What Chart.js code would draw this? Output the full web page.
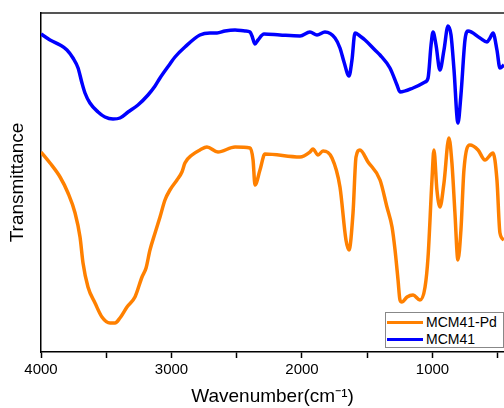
<!DOCTYPE html>
<html>
<head>
<meta charset="utf-8">
<script src="https://cdn.jsdelivr.net/npm/chart.js@4"></script>
<style>
  html, body { margin: 0; padding: 0; background: #fff; }
  #wrap { position: relative; width: 504px; height: 408px; overflow: hidden; }
  #legend {
    position: absolute; left: 385px; top: 312px; width: 117px; height: 34px;
    border: 1px solid #888; background: #fff; white-space: nowrap; overflow: hidden;
    font: 14px "Liberation Sans", Arial, sans-serif; color: #000;
  }
  #legend .item { display: flex; align-items: center; height: 16px; margin-top: 1px; }
  #legend .sw { width: 36px; height: 3px; margin: 0 3px 0 1px; flex: none; }
</style>
</head>
<body>
<div id="wrap">
  <canvas id="ftir" width="504" height="408"></canvas>
  <div id="legend"></div>
</div>
<script>
// MCM41 (blue)
const wnMCM41 = [4000, 3931, 3854, 3801, 3755, 3716, 3686, 3663, 3625, 3563, 3510, 3448, 3395, 3333, 3257, 3180, 3126, 3088, 3012, 2973, 2897, 2782, 2705, 2651, 2590, 2513, 2437, 2398, 2383, 2360, 2337, 2291, 2169, 2015, 1939, 1885, 1824, 1747, 1709, 1678, 1640, 1617, 1594, 1556, 1517, 1441, 1402, 1326, 1272, 1249, 1149, 1057, 1034, 1011, 996, 973, 943, 912, 881, 858, 835, 805, 782, 751, 728, 636, 582, 559, 536, 506, 483, 452];
const tMCM41 = [318, 312, 307, 302, 294, 284, 269, 259, 249, 240, 235, 233, 234, 240, 247, 257, 266, 274, 288, 295, 305, 317, 319, 319, 321, 322, 321, 320, 316, 308, 312, 318, 317, 316, 320, 317, 320, 314, 304, 290, 276, 292, 319, 316, 312, 302, 297, 284, 267, 260, 264, 270, 274, 307, 320, 307, 282, 302, 326, 317, 282, 229, 257, 312, 321, 314, 310, 314, 319, 302, 284, 287];

// MCM41-Pd (orange)
const wnMCM41Pd = [4000, 3931, 3854, 3793, 3739, 3701, 3678, 3640, 3586, 3533, 3471, 3433, 3395, 3341, 3280, 3226, 3195, 3165, 3126, 3088, 3050, 3012, 2958, 2920, 2897, 2843, 2782, 2728, 2644, 2513, 2398, 2375, 2360, 2322, 2284, 2015, 1939, 1916, 1877, 1839, 1770, 1709, 1663, 1640, 1609, 1586, 1556, 1494, 1402, 1349, 1310, 1287, 1264, 1249, 1234, 1195, 1149, 1096, 1057, 1034, 1004, 989, 966, 943, 912, 874, 851, 828, 805, 782, 759, 713, 651, 598, 536, 506, 483, 452];
const tMCM41Pd = [200, 189, 175, 159, 139, 115, 89, 65, 49, 35, 29, 29, 34, 45, 55, 75, 84, 102, 119, 135, 152, 162, 172, 180, 189, 197, 202, 205, 200, 205, 204, 192, 167, 182, 198, 195, 200, 203, 197, 201, 194, 165, 112, 102, 139, 195, 202, 190, 172, 145, 125, 102, 72, 52, 50, 55, 57, 52, 65, 95, 172, 202, 162, 145, 169, 214, 189, 139, 92, 122, 182, 207, 202, 192, 199, 172, 119, 112];

// x ticks: every 500, labelled at thousands
const xTickValues = [4000, 3500, 3000, 2500, 2000, 1500, 1000, 500];
const xTickLabels = ['4000', '', '3000', '', '2000', '', '1000', ''];

function toPoints(xs, ys) {
    return xs.map((x, i) => ({ x: x, y: ys[i] }));
}

const font = '"Liberation Sans", Arial, sans-serif';

const chart = new Chart(document.getElementById('ftir').getContext('2d'), {
    type: 'line',
    data: {
        datasets: [
            {
                label: 'MCM41-Pd',
                data: toPoints(wnMCM41Pd, tMCM41Pd),
                borderColor: '#ff8000',
                borderWidth: 3.5,
                pointRadius: 0,
                cubicInterpolationMode: 'monotone',
                fill: false
            },
            {
                label: 'MCM41',
                data: toPoints(wnMCM41, tMCM41),
                borderColor: '#0000ff',
                borderWidth: 3.5,
                pointRadius: 0,
                cubicInterpolationMode: 'monotone',
                fill: false
            }
        ]
    },
    options: {
        responsive: false,
        animation: false,
        layout: { padding: { top: 13, right: 0, bottom: 0, left: 0 } },
        plugins: {
            legend: { display: false },
            tooltip: { enabled: false }
        },
        scales: {
            x: {
                type: 'linear',
                reverse: true,
                min: 452,
                max: 4000,
                afterBuildTicks: s => { s.ticks = xTickValues.map(v => ({ value: v })); },
                afterFit: s => { s.height = 56; },
                border: { color: '#000', width: 1.5 },
                grid: {
                    drawOnChartArea: false,
                    drawTicks: true,
                    tickLength: 6,
                    tickColor: '#000',
                    tickWidth: 1.5
                },
                ticks: {
                    maxRotation: 0,
                    autoSkip: false,
                    padding: 3,
                    color: '#000',
                    font: { family: font, size: 15 },
                    callback: (v, i) => xTickLabels[i]
                },
                title: {
                    display: true,
                    text: 'Wavenumber(cm\u207B\u00B9)',
                    color: '#000',
                    font: { family: font, size: 19 },
                    padding: { top: 6, bottom: 0 }
                }
            },
            xTop: {
                type: 'linear',
                axis: 'x',
                position: 'top',
                min: 452,
                max: 4000,
                border: { color: '#555', width: 2 },
                grid: { display: false, drawTicks: false },
                ticks: { display: false }
            },
            y: {
                min: 0,
                max: 339,
                border: { color: '#000', width: 1.5 },
                grid: { display: false, drawTicks: false },
                ticks: { display: false },
                title: {
                    display: true,
                    text: 'Transmittance',
                    color: '#000',
                    font: { family: font, size: 19 },
                    padding: { top: 6, bottom: 0 }
                },
                afterFit: s => { s.width = 41; }
            }
        }
    }
});

// legend box, bottom right
const legend = document.getElementById('legend');
chart.data.datasets.forEach(ds => {
    const item = document.createElement('div');
    item.className = 'item';
    const sw = document.createElement('span');
    sw.className = 'sw';
    sw.style.background = ds.borderColor;
    const txt = document.createElement('span');
    txt.textContent = ds.label;
    item.appendChild(sw);
    item.appendChild(txt);
    legend.appendChild(item);
});
</script>
</body>
</html>
